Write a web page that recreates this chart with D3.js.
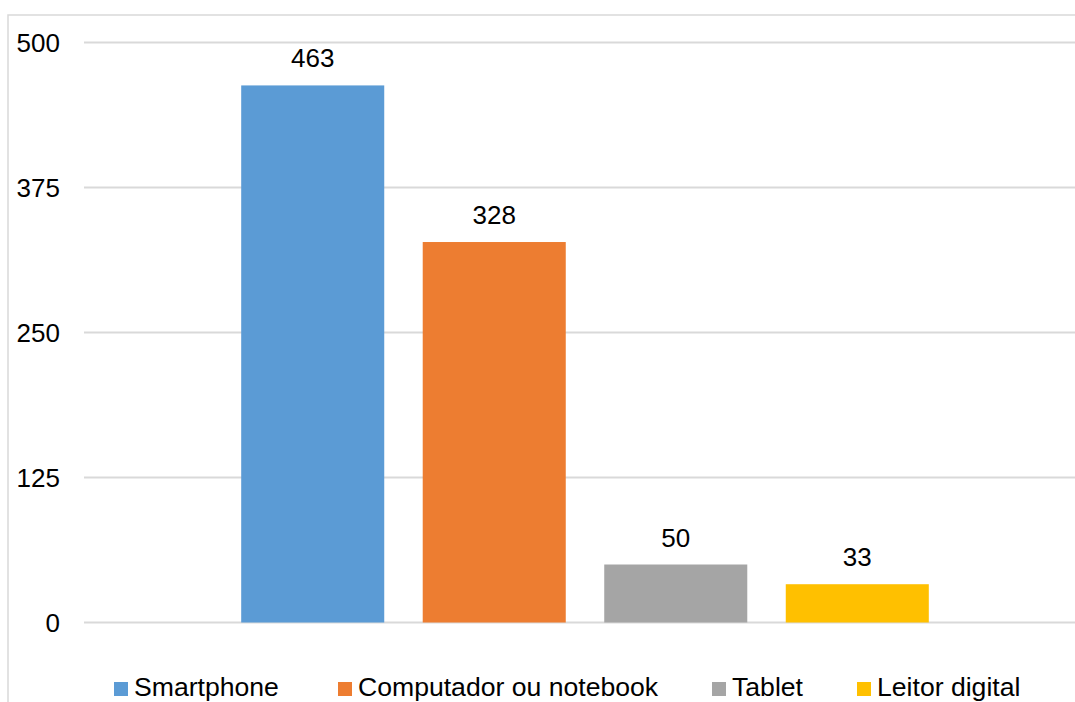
<!DOCTYPE html>
<html>
<head>
<meta charset="utf-8">
<script src="https://cdn.jsdelivr.net/npm/d3@7"></script>
<style>
  body { margin: 0; background: #fff; }
  svg text { font-family: "Liberation Sans", Arial, sans-serif; fill: #000; }
</style>
</head>
<body>
<svg id="chart" width="1075" height="702"></svg>
<script>
var series = ['Smartphone', 'Computador ou notebook', 'Tablet', 'Leitor digital'];
var values = [463, 328, 50, 33];
var colors = ['#5B9BD5', '#ED7D31', '#A5A5A5', '#FFC000'];
var yTicks = [0, 125, 250, 375, 500];

var svg = d3.select('#chart');

// outer chart frame (runs past the right and bottom edge)
svg.append('rect')
    .attr('x', 8).attr('y', 15)
    .attr('width', 1100).attr('height', 720)
    .attr('fill', 'none')
    .attr('stroke', '#d9d9d9')
    .attr('stroke-width', 1.5);

var plot = {left: 84, right: 1086, top: 42.5, bottom: 622.5};

var y = d3.scaleLinear().domain([0, 500]).range([plot.bottom, plot.top]);
var x = d3.scaleBand().domain(series)
    .range([plot.left, plot.right])
    .paddingInner(0.212)
    .paddingOuter(0.866);

// gridlines
svg.append('g').selectAll('line')
    .data(yTicks)
    .enter().append('line')
    .attr('x1', plot.left).attr('x2', 1075)
    .attr('y1', function(d) { return y(d); })
    .attr('y2', function(d) { return y(d); })
    .attr('stroke', '#d9d9d9')
    .attr('stroke-width', 2);

// y tick labels
svg.append('g').selectAll('text')
    .data(yTicks)
    .enter().append('text')
    .attr('x', 60)
    .attr('y', function(d) { return y(d); })
    .attr('dy', '0.36em')
    .attr('text-anchor', 'end')
    .style('font-size', '26px')
    .text(function(d) { return d; });

// bars
svg.append('g').selectAll('rect')
    .data(values)
    .enter().append('rect')
    .attr('x', function(d, i) { return x(series[i]); })
    .attr('width', x.bandwidth())
    .attr('y', function(d) { return y(d); })
    .attr('height', function(d) { return y(0) - y(d); })
    .attr('fill', function(d, i) { return colors[i]; });

// value labels
svg.append('g').selectAll('text')
    .data(values)
    .enter().append('text')
    .attr('x', function(d, i) { return x(series[i]) + x.bandwidth() / 2; })
    .attr('y', function(d) { return y(d) - 18; })
    .attr('text-anchor', 'middle')
    .style('font-size', '26px')
    .text(function(d) { return d; });

// legend
var legendX = [114, 338, 712, 857];
var legend = svg.append('g').selectAll('g')
    .data(series)
    .enter().append('g')
    .attr('transform', function(d, i) { return 'translate(' + legendX[i] + ',682)'; });

legend.append('rect')
    .attr('width', 14).attr('height', 14)
    .attr('fill', function(d, i) { return colors[i]; });

legend.append('text')
    .attr('x', 20).attr('y', 14)
    .style('font-size', '26.6px')
    .text(function(d) { return d; });
</script>
</body>
</html>
